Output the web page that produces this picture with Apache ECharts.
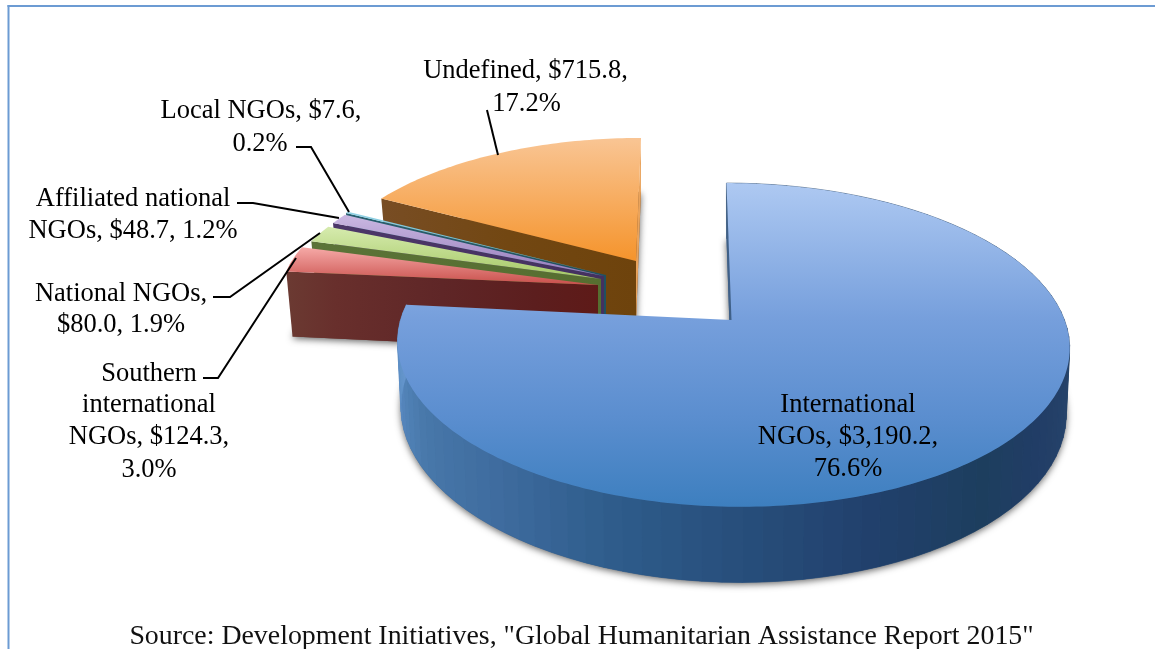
<!DOCTYPE html>
<html>
<head>
<meta charset="utf-8">
<style>html,body{margin:0;padding:0;background:#fff}#c{width:1155px;height:649px}</style>
<script src="https://cdn.jsdelivr.net/npm/echarts@6/dist/echarts.min.js"></script>
</head>
<body>
<div id="c"></div>
<script>
// ---- data ----
const categories = ['International NGOs','Southern international NGOs','National NGOs','Affiliated national NGOs','Local NGOs','Undefined'];
const amounts = [3190.2,124.3,80.0,48.7,7.6,715.8];
const labelText = [
  ['International','NGOs, $3,190.2,','76.6%'],
  ['Southern','international','NGOs, $124.3,','3.0%'],
  ['National NGOs,','$80.0, 1.9%'],
  ['Affiliated national','NGOs, $48.7, 1.2%'],
  ['Local NGOs, $7.6,','0.2%'],
  ['Undefined, $715.8,','17.2%']
];
const sourceText = 'Source: Development Initiatives, "Global Humanitarian Assistance Report 2015"';

// ---- layout and style ----
const PERSP = 0.154;
const geometry = [
  {ax:731.5,ay:320,rx:332,ry:158,q:7,cx:1,t:64,b:.99},
  {ax:598,ay:285,rx:316,ry:140,q:20,cx:0,t:66,b:.98},
  {ax:601,ay:279,rx:315,ry:140,q:0,cx:0,t:66,b:.98},
  {ax:604,ay:276,rx:313,ry:142,q:0,cx:0,t:66,b:.98},
  {ax:606,ay:275,rx:314,ry:144,q:0,cx:0,t:66,b:.98},
  {ax:636,ay:261,rx:313,ry:142,q:-5.8,cx:0,t:62,b:.98}
];
const topStops = [
  [[0,'#aec9f2'],[.42,'#769fdc'],[.72,'#5b8ecf'],[1,'#3d7fbf']],
  [[0,'#f6aaa8'],[1,'#c94f4b']],
  [[0,'#d6ebae'],[1,'#a5c865']],
  [[0,'#cbb9e2'],[1,'#957abb']],
  [[0,'#93d3e6'],[1,'#45a8c2']],
  [[0,'#f9c594'],[1,'#f5942c']]
];
const wallStops = [
  [[0,'#3f6088'],[1,'#3f6088']],
  [[0,'#6b3a32'],[.16,'#682f2c'],[.5,'#5f2627'],[.8,'#5c1e1e'],[1,'#5e1a18']],
  [[0,'#5b7338'],[1,'#566e30']],
  [[0,'#4c3769'],[1,'#44305f']],
  [[0,'#27606f'],[1,'#1f5060']],
  [[0,'#784d24'],[.5,'#724712'],[1,'#6e430c']]
];
const endWall = [null,null,null,null,null,'#e9a35c'];
const blueRim = [[90,'#2b4a6c'],[110,'#254269'],[125,'#213d66'],[140,'#1d3e5e'],[160,'#21406c'],[180,'#274e7b'],[200,'#2f5d8c'],[220,'#3f6c9f'],[240,'#4878aa'],[258,'#5889c0'],[276,'#6a9ad0']];
const paintOrder = [5,4,3,2,1,0];
const labelPos = [
  {x:[848,848,848],y:[405,437,469]},
  {x:[149,149,149,149],y:[374,405,437,470]},
  {x:[121,121],y:[294,325]},
  {x:[133,133],y:[199,231]},
  {x:[261,260],y:[111,144]},
  {x:[525.5,526.5],y:[71,104]}
];
const leaders = [
  [[487,110],[498,155]],
  [[296,147],[311,147],[349,212]],
  [[237,203],[253,203],[339,218]],
  [[213,297],[230,297],[320,233]],
  [[203,378],[218,378],[296,258]]
];
const SERIF = '"Liberation Serif","Times New Roman",serif';

// ---- angles from the values ----
const total = amounts.reduce((a,b)=>a+b,0);
const spans = [];
let run = 0;
amounts.forEach(v=>{ spans.push([run/total*360,(run+v)/total*360]); run += v; });

function hex(c){return [1,3,5].map(i=>parseInt(c.substr(i,2),16));}
function rimColour(deg){
  for(let i=1;i<blueRim.length;i++){
    if(deg<=blueRim[i][0]){
      const a=blueRim[i-1],b=blueRim[i],f=Math.max(0,(deg-a[0])/(b[0]-a[0]));
      const A=hex(a[1]),B=hex(b[1]);
      return 'rgb('+A.map((x,k)=>Math.round(x+(B[k]-x)*f)).join(',')+')';
    }
  }
  return deg<90?blueRim[0][1]:blueRim[blueRim.length-1][1];
}
function rimPoint(g,deg){
  const t=deg*Math.PI/180,u=Math.sin(t),v=-Math.cos(t),s=1/(1-PERSP*v);
  return [g.ax+g.cx+(g.rx*u+g.q*v)*s,g.ay+g.ry*v*s,s];
}
function low(g,p){return [g.ax+(p[0]-g.ax)*g.b,p[1]+g.t*p[2]];}
function arc(g,a,b,step){
  const out=[];const n=Math.max(2,Math.ceil((b-a)/step));
  for(let i=0;i<=n;i++)out.push(rimPoint(g,a+(b-a)*i/n));
  return out;
}
function grad(stops,h){
  return new echarts.graphic.LinearGradient(0,0,h?1:0,h?0:1,stops.map(s=>({offset:s[0],color:s[1]})));
}
function poly(points,style){return {type:'polygon',shape:{points:points.map(p=>[p[0],p[1]])},style};}

function renderSlice(params){
  const i=paintOrder[params.dataIndex],g=geometry[i],a=spans[i][0],b=spans[i][1];
  const rim=arc(g,a,b,1);
  const apex=[g.ax,g.ay,1],apexLow=low(g,apex);
  const kids=[];
  // drop shadow of the underside
  kids.push(poly([apexLow].concat(rim.map(p=>low(g,p))),{fill:wallStops[i][0][1],shadowBlur:7,shadowColor:'rgba(0,0,0,0.6)',shadowOffsetY:2}));
  // outer rim, shaded band by band
  if(i===0){
    const strips=arc(g,a,b,3);
    for(let k=0;k<strips.length-1;k++){
      const mid=a+(b-a)*(k+.5)/(strips.length-1);
      const c=rimColour(mid);
      kids.push(poly([strips[k],strips[k+1],low(g,strips[k+1]),low(g,strips[k])],{fill:c,stroke:c,lineWidth:.6}));
    }
  }
  // cut faces
  const s=rim[0],e=rim[rim.length-1];
  if(endWall[i]) kids.push(poly([apex,e,low(g,e),apexLow],{fill:endWall[i]}));
  kids.push(poly([s,apex,apexLow,low(g,s)],{fill:grad(wallStops[i],true)}));
  // top face
  kids.push(poly([apex].concat(rim),{fill:grad(topStops[i],false)}));
  return {type:'group',children:kids};
}

const graphicEls=[
  {type:'rect',z:100,shape:{x:7.5,y:5,width:2,height:644},style:{fill:'#6c9bd3'}},
  {type:'rect',z:100,shape:{x:7.5,y:5,width:1148,height:2},style:{fill:'#6c9bd3'}},
  {type:'text',z:100,style:{x:581.5,y:636.5,text:sourceText,fill:'#111',font:'27.85px '+SERIF,textAlign:'center',textVerticalAlign:'middle'}}
];
labelText.forEach((lines,i)=>lines.forEach((txt,k)=>{
  graphicEls.push({type:'text',z:100,style:{x:labelPos[i].x[k],y:labelPos[i].y[k],text:txt,fill:'#000',font:'26.5px '+SERIF,textAlign:'center',textVerticalAlign:'middle'}});
}));
leaders.forEach(pts=>graphicEls.push({type:'polyline',z:100,shape:{points:pts},style:{stroke:'#000',lineWidth:2,fill:null}}));

const chart=echarts.init(document.getElementById('c'),null,{renderer:'canvas'});
chart.setOption({
  animation:false,
  backgroundColor:'#fff',
  series:[{
    type:'custom',
    coordinateSystem:'none',
    renderItem:renderSlice,
    silent:true,
    data:paintOrder.map(i=>({name:categories[i],value:amounts[i]}))
  }],
  graphic:{elements:graphicEls}
});
</script>
</body>
</html>
